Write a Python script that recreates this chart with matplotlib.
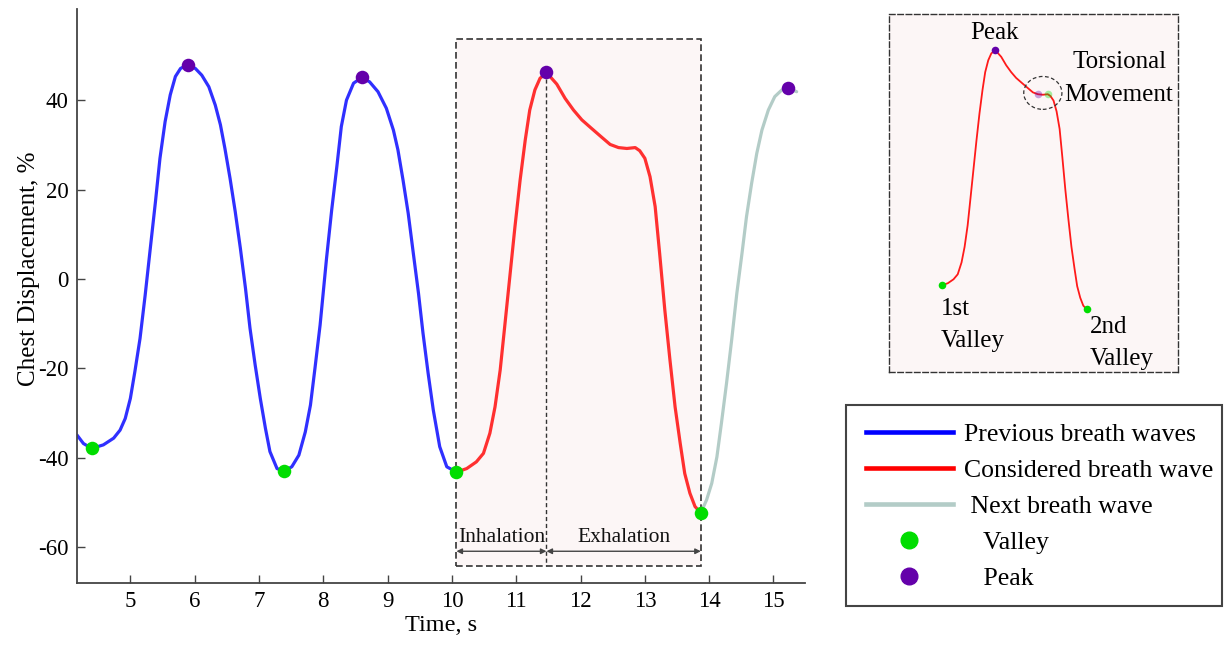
import matplotlib
matplotlib.use("Agg")
import matplotlib.pyplot as plt
from matplotlib.patches import Rectangle, Ellipse
from matplotlib.lines import Line2D

# ---------------- data ----------------
prev_t = [4.17, 4.27, 4.40, 4.58, 4.74, 4.84, 4.92, 5.00, 5.07, 5.15, 5.23, 5.31, 5.39,
          5.46, 5.54, 5.62, 5.70, 5.78, 5.89, 6.01, 6.11, 6.22, 6.32, 6.40, 6.47, 6.55,
          6.63, 6.71, 6.79, 6.86, 6.94, 7.02, 7.10, 7.17, 7.28, 7.39, 7.51, 7.62, 7.72,
          7.80, 7.87, 7.95, 8.05, 8.13, 8.21, 8.28, 8.36, 8.47, 8.60, 8.72, 8.85, 8.98,
          9.09, 9.16, 9.24, 9.32, 9.40, 9.48, 9.55, 9.63, 9.71, 9.81, 9.92, 10.07]
prev_v = [-34.9, -36.8, -37.9, -37.1, -35.6, -33.8, -31.2, -26.7, -20.7, -13.3, -3.6, 6.9, 17.3,
          27.0, 35.2, 41.2, 45.3, 47.1, 47.9, 47.1, 45.6, 43.0, 38.9, 34.5, 29.2, 22.5,
          15.1, 6.9, -2.1, -11.0, -19.2, -26.7, -33.4, -38.6, -42.4, -43.0, -42.0, -39.4, -34.2,
          -28.2, -20.0, -10.3, 4.6, 15.4, 25.1, 34.1, 40.0, 43.8, 45.1, 44.1, 41.9, 38.2,
          33.3, 28.9, 22.1, 14.7, 5.7, -3.2, -12.1, -21.1, -29.3, -37.5, -42.0, -43.2]

cons_t = [10.07, 10.23, 10.38, 10.49, 10.59, 10.67, 10.75, 10.82, 10.90, 10.98, 11.06, 11.14,
          11.21, 11.29, 11.37, 11.47, 11.63, 11.76, 11.89, 12.02, 12.17, 12.33, 12.46, 12.59,
          12.72, 12.85, 12.92, 13.00, 13.08, 13.16, 13.23, 13.31, 13.39, 13.47, 13.55, 13.62,
          13.70, 13.78, 13.87]
cons_v = [-43.2, -42.4, -40.9, -39.0, -34.5, -28.6, -20.4, -10.7, 0.5, 11.7, 22.1, 31.1,
          37.8, 42.3, 44.9, 46.2, 43.6, 40.4, 37.8, 35.6, 33.7, 31.7, 30.1, 29.4,
          29.2, 29.4, 28.7, 27.0, 22.9, 16.2, 5.7, -6.9, -18.1, -28.6, -36.8, -43.5,
          -47.9, -50.9, -52.3]

next_t = [13.87, 13.96, 14.04, 14.12, 14.19, 14.27, 14.35, 14.43, 14.51, 14.58, 14.66, 14.74,
          14.82, 14.92, 15.02, 15.13, 15.23, 15.36]
next_v = [-52.3, -49.4, -45.7, -39.8, -32.3, -23.3, -13.6, -3.2, 5.7, 13.9, 21.4, 28.1,
          33.3, 37.8, 40.8, 42.3, 42.7, 41.9]

valley_t = [4.40, 7.39, 10.07, 13.87]
valley_v = [-37.9, -43.0, -43.2, -52.3]
peak_t = [5.89, 8.60, 11.47, 15.23]
peak_v = [47.9, 45.1, 46.2, 42.7]

torsion_peak = (12.59, 29.4)
torsion_valley = (12.85, 29.4)

x_ticks = [5, 6, 7, 8, 9, 10, 11, 12, 13, 14, 15]
y_ticks = [-60, -40, -20, 0, 20, 40]

legend_labels = ["Previous breath waves", "Considered breath wave", " Next breath wave",
                 "   Valley", "   Peak"]

# ---------------- style ----------------
plt.rcParams["font.family"] = ["Liberation Serif", "DejaVu Serif"]
plt.rcParams["axes.unicode_minus"] = False

C_PREV = "#3030ff"
C_CONS = "#ff3030"
C_NEXT = "#b3ccc7"
C_VAL = "#00dd00"
C_PEAK = "#6400aa"
C_PINK = "#fcf6f6"
C_DARK = "#333333"

fig = plt.figure(figsize=(12.27, 6.48), dpi=100)
ax = fig.add_axes([77 / 1227, 1 - 583 / 648, (805 - 77) / 1227, (583 - 9) / 648])

# shaded considered-breath region
ax.add_patch(Rectangle((valley_t[2], -64.1), valley_t[3] - valley_t[2], 53.6 + 64.1,
                       facecolor=C_PINK, edgecolor=C_DARK, lw=1.2,
                       linestyle=(0, (4, 2)), zorder=0.5))
ax.plot([peak_t[2], peak_t[2]], [peak_v[2], -64.1], color=C_DARK, lw=1.0,
        linestyle=(0, (3, 2)), zorder=1)

ax.plot(prev_t, prev_v, color=C_PREV, lw=2.3, zorder=2, solid_capstyle="round",
        solid_joinstyle="round")
ax.plot(cons_t, cons_v, color=C_CONS, lw=2.3, zorder=2, solid_capstyle="round",
        solid_joinstyle="round")
ax.plot(next_t, next_v, color=C_NEXT, lw=2.3, zorder=2, solid_capstyle="round",
        solid_joinstyle="round")
ax.scatter(valley_t, valley_v, s=95, color=C_VAL, zorder=3, linewidths=0)
ax.scatter(peak_t, peak_v, s=95, color=C_PEAK, zorder=3, linewidths=0)

# inhalation / exhalation arrows
arr = dict(arrowstyle="<|-|>", color="#444444", lw=1.0, mutation_scale=8,
           shrinkA=0, shrinkB=0)
ax.annotate("", xy=(peak_t[2], -60.9), xytext=(valley_t[2], -60.9), arrowprops=arr)
ax.annotate("", xy=(valley_t[3], -60.9), xytext=(peak_t[2], -60.9), arrowprops=arr)
ax.text((valley_t[2] + peak_t[2]) / 2, -58.8, "Inhalation", ha="center", va="baseline",
        fontsize=15.5, color="#111111")
ax.text((peak_t[2] + valley_t[3]) / 2, -58.8, "Exhalation", ha="center", va="baseline",
        fontsize=15.5, color="#111111")

ax.set_xlim(4.17, 15.49)
ax.set_ylim(-68.0, 60.4)
ax.set_xticks(x_ticks)
ax.set_yticks(y_ticks)
ax.set_xticklabels([str(v) for v in x_ticks])
ax.set_yticklabels([str(v) for v in y_ticks])
ax.tick_params(direction="in", length=6, width=1.0, color="#444444",
               labelsize=16.5, pad=6)
for s in ["top", "right"]:
    ax.spines[s].set_visible(False)
for s in ["left", "bottom"]:
    ax.spines[s].set_color("#444444")
    ax.spines[s].set_linewidth(1.3)
ax.set_xlabel("Time, s", fontsize=17.5, labelpad=2)
ax.set_ylabel("Chest Displacement, %", fontsize=18)
ax.yaxis.set_label_coords(-0.051, 0.548)

# ---------------- inset ----------------
ins = fig.add_axes([889.3 / 1227, 1 - 371.7 / 648, (1177.7 - 889.3) / 1227,
                    (371.7 - 14.3) / 648])
ins.set_facecolor(C_PINK)
for sp in ins.spines.values():
    sp.set_linestyle((0, (4, 2)))
    sp.set_color(C_DARK)
    sp.set_linewidth(1.0)
ins.set_xticks([])
ins.set_yticks([])
ins.plot(cons_t, cons_v, color="#ff1a1a", lw=1.3, zorder=2, solid_joinstyle="round")
ins.scatter([valley_t[2], valley_t[3]], [valley_v[2], valley_v[3]], s=30, color=C_VAL,
            zorder=3, linewidths=0)
ins.scatter([peak_t[2]], [peak_v[2]], s=30, color=C_PEAK, zorder=3, linewidths=0)
ins.scatter([torsion_peak[0]], [torsion_peak[1]], s=30, color=C_PEAK, alpha=0.35,
            zorder=3, linewidths=0)
ins.scatter([torsion_valley[0]], [torsion_valley[1]], s=30, color=C_VAL, alpha=0.35,
            zorder=3, linewidths=0)
ins.add_patch(Ellipse((12.72, 29.9), 1.0, 12.5, fill=False, edgecolor=C_DARK, lw=0.9,
                      linestyle=(0, (3, 2)), zorder=4))
ins.set_xlim(8.697, 16.254)
ins.set_ylim(-76.0, 59.76)
tfs = 18
ins.text(0.363, 0.930, "Peak", transform=ins.transAxes, ha="center", va="baseline", fontsize=tfs)
ins.text(0.800, 0.849, "Torsional", transform=ins.transAxes, ha="center", va="baseline", fontsize=tfs)
ins.text(0.796, 0.758, "Movement", transform=ins.transAxes, ha="center", va="baseline", fontsize=tfs)
ins.text(0.179, 0.159, "1st", transform=ins.transAxes, ha="left", va="baseline", fontsize=tfs)
ins.text(0.179, 0.070, "Valley", transform=ins.transAxes, ha="left", va="baseline", fontsize=tfs)
ins.text(0.696, 0.107, "2nd", transform=ins.transAxes, ha="left", va="baseline", fontsize=tfs)
ins.text(0.696, 0.019, "Valley", transform=ins.transAxes, ha="left", va="baseline", fontsize=tfs)

# ---------------- legend ----------------
handles = [
    Line2D([], [], color="#0000ff", lw=3.3),
    Line2D([], [], color="#ff0000", lw=3.3),
    Line2D([], [], color=C_NEXT, lw=3.3),
    Line2D([], [], color=C_VAL, marker="o", ms=12, lw=0),
    Line2D([], [], color=C_PEAK, marker="o", ms=12, lw=0),
]
leg = fig.legend(handles, legend_labels, loc="upper left",
                 bbox_to_anchor=(846.3 / 1227, 1 - 404 / 648), borderaxespad=0,
                 fontsize=18.5, frameon=False, handlelength=3.4,
                 handletextpad=0.45, borderpad=0.75, labelspacing=0.5)
fig.patches.append(Rectangle((846 / 1227, 1 - 606 / 648), 376 / 1227, 201 / 648,
                             transform=fig.transFigure, fill=False,
                             edgecolor="#444444", lw=1.5))

fig.savefig("out.png", dpi=100)
